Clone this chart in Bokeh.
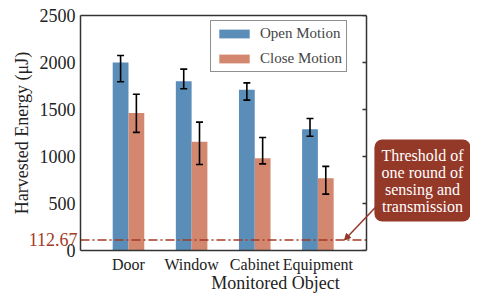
from bokeh.plotting import figure
from bokeh.models import (ColumnDataSource, Whisker, TeeHead, Span, Label, Arrow,
                          NormalHead, LinearAxis, Legend, LegendItem, FixedTicker, Range1d)
from bokeh.transform import dodge
from bokeh.embed import file_html
from bokeh.resources import INLINE

categories = ["Door", "Window", "Cabinet", "Equipment"]
positions = [0, 1, 2, 3]
open_mean = [2000, 1800, 1710, 1290]
open_low = [1795, 1720, 1600, 1215]
open_high = [2075, 1930, 1783, 1404]
close_mean = [1463, 1158, 982, 768]
close_low = [1257, 915, 922, 600]
close_high = [1663, 1366, 1202, 895]
threshold = 112.67
threshold_label = "112.67"
y_ticks = [0, 500, 1000, 1500, 2000, 2500]

FONT = "Liberation Serif"
BLUE = "#5B8DB9"
SALMON = "#D4876F"
DARKRED = "#943828"
LINERED = "#A33A26"
AXC = "#333333"
TXT = "#222222"

# layout (pixels)
W, H = 470, 295
LEFT, TOP, BOTTOM = 80, 15, 44
PLOT_W = 286                       # width of the visible plot box
FRAME_W = W - LEFT                 # frame extends to the right edge (room for the note)
FRAME_H = H - TOP - BOTTOM
X_MIN, X_MAX = -0.76, 3.77
PX = PLOT_W / (X_MAX - X_MIN)      # pixels per x unit
X_EXT = X_MIN + FRAME_W / PX
Y_MAX = 2500

src = ColumnDataSource(dict(x=positions, om=open_mean, ol=open_low, oh=open_high,
                            cm=close_mean, cl=close_low, ch=close_high))

p = figure(width=W, height=H, output_backend="svg", toolbar_location=None,
           x_range=Range1d(X_MIN, X_EXT), y_range=Range1d(0, Y_MAX),
           y_axis_location=None,
           min_border_left=LEFT, min_border_right=0, min_border_top=TOP,
           min_border_bottom=BOTTOM)
p.grid.visible = False
p.outline_line_color = None

r_open = p.vbar(x=dodge("x", -0.125, range=p.x_range), top="om", width=0.25, source=src,
                fill_color=BLUE, line_color=None)
r_close = p.vbar(x=dodge("x", 0.125, range=p.x_range), top="cm", width=0.25, source=src,
                 fill_color=SALMON, line_color=None)

for off, lo, hi in [(-0.125, "ol", "oh"), (0.125, "cl", "ch")]:
    p.add_layout(Whisker(base=dodge("x", off, range=p.x_range), lower=lo, upper=hi, source=src,
                         line_color="black", line_width=1.6, level="annotation",
                         upper_head=TeeHead(size=7, line_width=1.6, line_color="black"),
                         lower_head=TeeHead(size=7, line_width=1.6, line_color="black")))

# threshold line across the plot box
p.line(x=[X_MIN, X_MAX], y=[threshold, threshold], line_color=LINERED,
       line_width=1.5, line_dash="9 3 2 3")

# x axis
xa = p.xaxis[0]
xa.ticker = FixedTicker(ticks=positions)
xa.major_label_overrides = {i: c for i, c in zip(positions, categories)}
xa.bounds = (X_MIN, X_MAX)
xa.axis_line_color = AXC
xa.axis_line_width = 1.5
xa.major_tick_line_color = None
xa.minor_tick_line_color = None
xa.major_tick_in = 0
xa.major_tick_out = 0
xa.major_label_text_font = FONT
xa.major_label_text_font_size = "16px"
xa.major_label_text_color = TXT
xa.major_label_standoff = 5
xa.axis_label = "Monitored Object"
xa.axis_label_text_font = FONT
xa.axis_label_text_font_size = "18px"
xa.axis_label_text_font_style = "normal"
xa.axis_label_text_color = TXT
xa.axis_label_standoff = -3

# y axis: inner axis carries the axis line and the red threshold value
ya_thr = LinearAxis(ticker=FixedTicker(ticks=[threshold]),
                    major_label_overrides={threshold: threshold_label},
                    axis_line_color=AXC, axis_line_width=1.5,
                    major_tick_line_color=None, minor_tick_line_color=None,
                    major_tick_in=0, major_tick_out=0, major_label_standoff=3,
                    major_label_text_font=FONT, major_label_text_font_size="18px",
                    major_label_text_color=LINERED)
p.add_layout(ya_thr, "left")
# outer axis carries the regular tick labels (pulled back next to the frame) and the title
ya = LinearAxis(ticker=FixedTicker(ticks=y_ticks),
                axis_line_color=None, major_tick_line_color=None, minor_tick_line_color=None,
                major_tick_in=0, major_tick_out=0, major_label_standoff=-50,
                major_label_text_font=FONT, major_label_text_font_size="18px",
                major_label_text_color=TXT,
                axis_label="Harvested Energy (\u03bcJ)", axis_label_text_font=FONT,
                axis_label_text_font_size="18px", axis_label_text_font_style="normal",
                axis_label_text_color=TXT, axis_label_standoff=5)
p.add_layout(ya, "left")

# top edge of the plot box
p.add_layout(LinearAxis(ticker=FixedTicker(ticks=[]), bounds=(X_MIN, X_MAX),
                        axis_line_color=AXC, axis_line_width=1.5,
                        major_tick_line_color=None, minor_tick_line_color=None), "above")
# right edge of the plot box with inward ticks
p.add_layout(Span(location=X_MAX, dimension="height", line_color=AXC, line_width=1.5))
p.segment(x0=[X_MAX - 4 / PX] * len(y_ticks), x1=[X_MAX] * len(y_ticks),
          y0=y_ticks, y1=y_ticks, line_color=AXC, line_width=1.5)

# note box and arrow
p.add_layout(Label(x=342, y=70, x_units="screen", y_units="screen",
                   text="Threshold of\none round of\nsensing and\ntransmission",
                   text_align="center", text_baseline="middle", text_font=FONT,
                   text_font_size="16px", text_color="white", text_line_height=1.0,
                   background_fill_color=DARKRED, border_radius=8, padding=7))
p.add_layout(Arrow(x_start=X_MAX + 10 / PX, y_start=470,
                   x_end=X_MAX - 22 / PX, y_end=threshold,
                   line_color=DARKRED, line_width=1.5,
                   end=NormalHead(size=6, fill_color=DARKRED, line_color=DARKRED)))

legend = Legend(items=[LegendItem(label="Open Motion", renderers=[r_open]),
                       LegendItem(label="Close Motion", renderers=[r_close])],
                location=(130, FRAME_H - 58), label_text_font=FONT, label_text_font_size="15px",
                glyph_width=38, glyph_height=11, label_standoff=7, spacing=8,
                padding=4, margin=0, border_line_color=TXT, border_line_width=1.5,
                label_height=17)
p.add_layout(legend, "center")

open("out.html", "w").write(file_html(p, INLINE))
